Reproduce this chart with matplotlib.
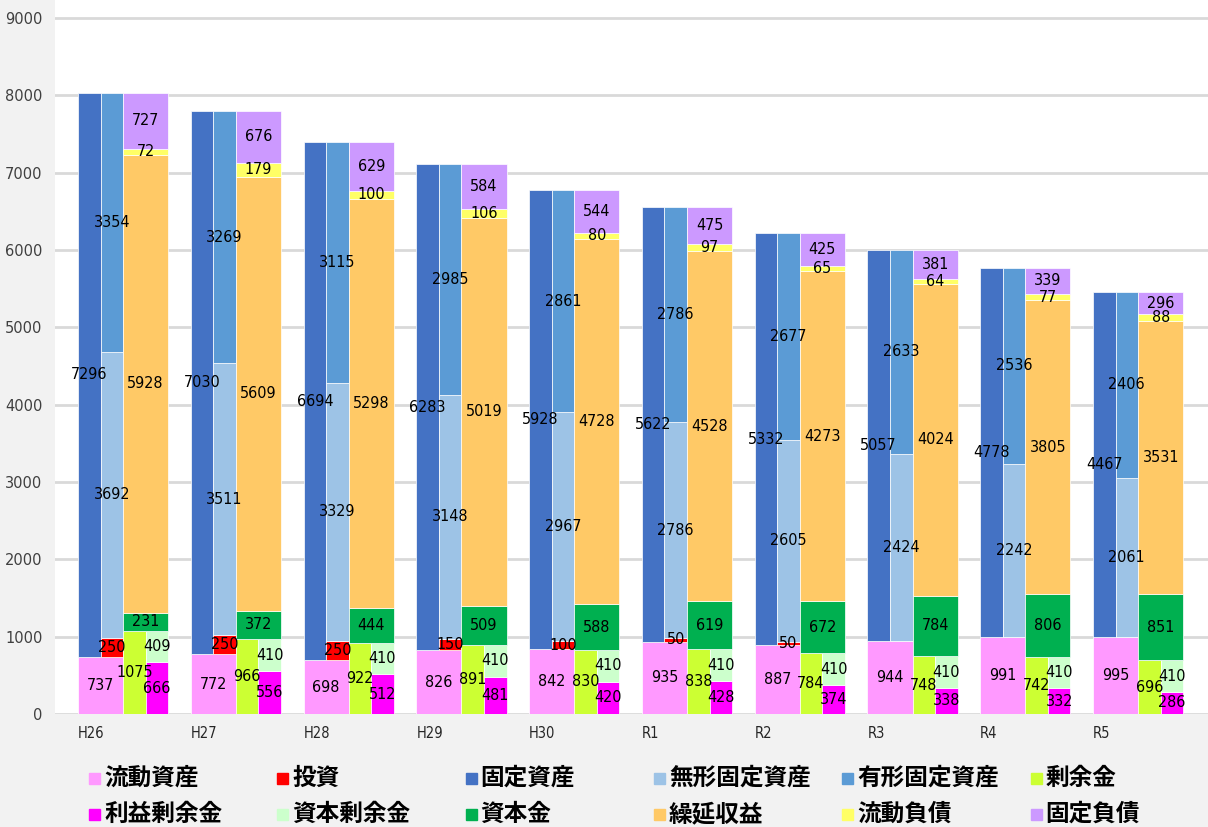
import matplotlib.pyplot as plt
import numpy as np
from matplotlib.patches import Rectangle

years = ['H26', 'H27', 'H28', 'H29', 'H30', 'R1', 'R2', 'R3', 'R4', 'R5']

# 資産の部
ryudo_shisan = [737, 772, 698, 826, 842, 935, 887, 944, 991, 995]
toshi = [250, 250, 250, 150, 100, 50, 50, 0, 0, 0]
kotei_shisan = [7296, 7030, 6694, 6283, 5928, 5622, 5332, 5057, 4778, 4467]
mukei = [3692, 3511, 3329, 3148, 2967, 2786, 2605, 2424, 2242, 2061]
yukei = [3354, 3269, 3115, 2985, 2861, 2786, 2677, 2633, 2536, 2406]

# 負債・純資産の部
joyokin = [1075, 966, 922, 891, 830, 838, 784, 748, 742, 696]
rieki_joyokin = [666, 556, 512, 481, 420, 428, 374, 338, 332, 286]
shihon_joyokin = [409, 410, 410, 410, 410, 410, 410, 410, 410, 410]
shihonkin = [231, 372, 444, 509, 588, 619, 672, 784, 806, 851]
kuen_shueki = [5928, 5609, 5298, 5019, 4728, 4528, 4273, 4024, 3805, 3531]
ryudo_fusai = [72, 179, 100, 106, 80, 97, 65, 64, 77, 88]
kotei_fusai = [727, 676, 629, 584, 544, 475, 425, 381, 339, 296]

names = ['流動資産', '投資', '固定資産', '無形固定資産', '有形固定資産', '剰余金',
         '利益剰余金', '資本剰余金', '資本金', '繰延収益', '流動負債', '固定負債']
colors = {
    '流動資産': '#FF99FF', '投資': '#FF0000', '固定資産': '#4472C4',
    '無形固定資産': '#9DC3E6', '有形固定資産': '#5B9BD5', '剰余金': '#CCFF33',
    '利益剰余金': '#FF00FF', '資本剰余金': '#CCFFCC', '資本金': '#00B050',
    '繰延収益': '#FFC966', '流動負債': '#FFFF66', '固定負債': '#CC99FF',
}

W, H = 1208, 827
fig = plt.figure(figsize=(W / 100, H / 100), dpi=100, facecolor='#F2F2F2')
ax = fig.add_axes([55 / W, (H - 714) / H, (W - 55) / W, 714 / H])
ax.set_facecolor('white')

x = np.arange(len(years))
nw = 0.2  # 細い棒の幅
label_font = dict(family='DejaVu Sans', stretch='condensed', fontsize=11.5, color='black')


def stack(xpos, width, values, bottom, name):
    values = np.array(values)
    bars = ax.bar(xpos, values, width, bottom=bottom, color=colors[name],
                  edgecolor='white', linewidth=0.5, zorder=2)
    labels = [str(v) if v else '' for v in values]
    ax.bar_label(bars, labels=labels, label_type='center', **label_font)
    return bottom + values


# 左側: 資産
stack(x - 0.2, 2 * nw, ryudo_shisan, 0, '流動資産')
stack(x - 0.3, nw, kotei_shisan, np.array(ryudo_shisan), '固定資産')
b = stack(x - 0.1, nw, toshi, np.array(ryudo_shisan), '投資')
b = stack(x - 0.1, nw, mukei, b, '無形固定資産')
stack(x - 0.1, nw, yukei, b, '有形固定資産')

# 右側: 負債・純資産
b = stack(x + 0.1, nw, joyokin, np.zeros(len(x), dtype=int), '剰余金')
b2 = stack(x + 0.3, nw, rieki_joyokin, 0, '利益剰余金')
stack(x + 0.3, nw, shihon_joyokin, b2, '資本剰余金')
b = stack(x + 0.2, 2 * nw, shihonkin, b, '資本金')
b = stack(x + 0.2, 2 * nw, kuen_shueki, b, '繰延収益')
b = stack(x + 0.2, 2 * nw, ryudo_fusai, b, '流動負債')
stack(x + 0.2, 2 * nw, kotei_fusai, b, '固定負債')

ax.set_xlim(-0.604, 9.62)
ax.set_ylim(0, 9000 * 714 / 696)
ax.set_yticks(range(0, 9001, 1000))
ax.tick_params(axis='y', length=0, pad=9, labelsize=10.5, labelcolor='#404040')
ax.set_xticks([])
ax.yaxis.grid(True, color='#D9D9D9', linewidth=2, zorder=0)
ax.set_axisbelow(True)
for s in ax.spines.values():
    s.set_visible(False)

# 年度ラベル（各グループの左端に左寄せ）
for i, yr in enumerate(years):
    ax.text(i - 0.4, -0.027, yr, transform=ax.get_xaxis_transform(), ha='left', va='center',
            family='DejaVu Sans', stretch='condensed', fontsize=10.5, color='#262626')

# 凡例
for k, name in enumerate(names):
    row, col = divmod(k, 6)
    px = 89 + col * 188.3
    py = 778 + row * 36
    fig.patches.append(Rectangle((px / W, 1 - (py + 5.5) / H), 11 / W, 11 / H,
                                 transform=fig.transFigure, color=colors[name]))
    fig.text((px + 15) / W, 1 - py / H, name, ha='left', va='center', fontsize=17,
             fontweight='bold', family=['Noto Sans CJK JP', 'DejaVu Sans'], color='black')

fig.savefig('out.png', dpi=100, facecolor=fig.get_facecolor())
